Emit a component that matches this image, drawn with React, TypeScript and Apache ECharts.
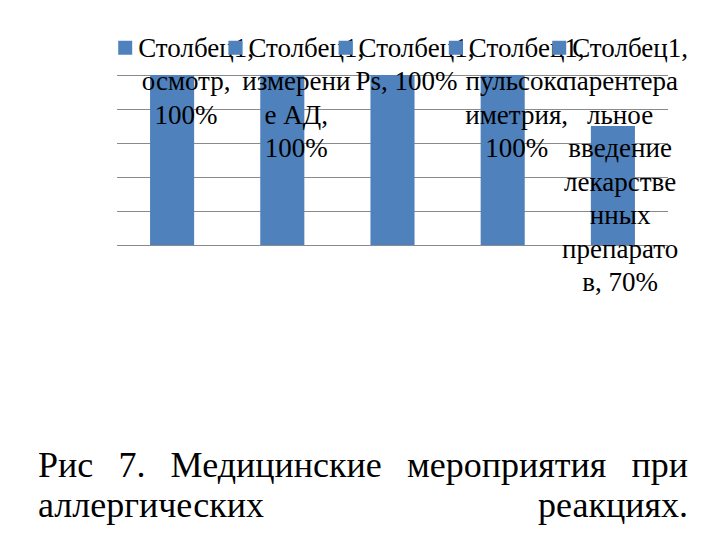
import React, { useEffect, useRef } from "react";
import * as echarts from "echarts";

const seriesName = "Столбец1";
const categories = [
  "осмотр",
  "измерение АД",
  "Ps",
  "пульсоксиметрия",
  "парентеральное введение лекарственных препаратов",
];
const values = [100, 100, 100, 100, 70];
// data-label text as wrapped in the reference (after the series name line)
const labelLines = [
  ["осмотр,", "100%"],
  ["измерени", "е АД,", "100%"],
  ["Ps, 100%"],
  ["пульсокс", "иметрия,", "100%"],
  ["парентера", "льное", "введение", "лекарстве", "нных", "препарато", "в, 70%"],
];
const yMin = 0;
const yMax = 100;
const yStep = 20;
const captionLine1 = ["Рис", "7.", "Медицинские", "мероприятия", "при"];
const captionLine2 = ["аллергических", "реакциях."];

const BAR = "#4F81BD";
const FONT = "serif";

function measure(text: string, size: number, family: string) {
  const ctx = document.createElement("canvas").getContext("2d");
  if (!ctx) return text.length * size * 0.5;
  ctx.font = `${size}px ${family}`;
  return ctx.measureText(text).width;
}

export default function App() {
  const ref = useRef<HTMLDivElement>(null);
  useEffect(() => {
    document.body.style.margin = "0";
    if (!ref.current) return;
    const chart = echarts.init(ref.current, null, { renderer: "svg" });
    const capSize = 36;
    const left = 38;
    const right = 688;
    const mkStyle = (text: string, align: string, size: number) => ({
      text,
      fontFamily: FONT,
      fontSize: size,
      fill: "#000",
      align,
      verticalAlign: "middle",
      textAlign: align,
      textVerticalAlign: "middle",
    });
    const widths = captionLine1.map((w) => measure(w, capSize, FONT));
    const total = widths.reduce((a, b) => a + b, 0);
    const gap = (right - left - total) / (captionLine1.length - 1);
    const captionGraphics: any[] = [];
    let cx = left;
    captionLine1.forEach((w, i) => {
      captionGraphics.push({ type: "text", x: cx, y: 465, style: mkStyle(w, "left", capSize) });
      cx += widths[i] + gap;
    });
    captionGraphics.push({ type: "text", x: left, y: 505, style: mkStyle(captionLine2[0], "left", capSize) });
    captionGraphics.push({ type: "text", x: right, y: 505, style: mkStyle(captionLine2[1], "right", capSize) });

    chart.setOption({
      animation: false,
      backgroundColor: "#fff",
      grid: { left: 117, right: 52, top: 75, bottom: 295, containLabel: false },
      xAxis: {
        type: "category",
        data: categories,
        axisLine: { show: false },
        axisTick: { show: false },
        axisLabel: { show: false },
        splitLine: { show: false },
      },
      yAxis: {
        type: "value",
        min: yMin,
        max: yMax,
        interval: yStep,
        axisLine: { show: false },
        axisTick: { show: false },
        axisLabel: { show: false },
        splitLine: { show: true, lineStyle: { color: "#8a8a8a", width: 1 } },
      },
      series: [
        {
          type: "bar",
          name: seriesName,
          data: values,
          barWidth: "40%",
          itemStyle: { color: BAR },
          label: { show: false },
        },
      ],
      graphic: captionGraphics,
    });

    // data labels (legend key + series name + wrapped category/value), placed from the axes
    const LBL = 27;
    const LH = 33.5;
    const labelGraphics: any[] = [];
    values.forEach((v, i) => {
      const pt = chart.convertToPixel({ gridIndex: 0 }, [i, v]) as number[];
      const bx = pt[0];
      const first = `${seriesName},`;
      const w1 = 14 + 6 + measure(first, LBL, FONT);
      const lines = labelLines[i];
      const wMax = Math.max(w1, ...lines.map((l) => measure(l, LBL, FONT)));
      const cxL = Math.min(bx + 14, 688 - wMax / 2);
      const y0 = 31 + LH / 2;
      labelGraphics.push({
        type: "rect",
        z: 100,
        shape: { x: cxL - w1 / 2, y: y0 - 7, width: 14, height: 14 },
        style: { fill: BAR },
      });
      labelGraphics.push({
        type: "text",
        z: 100,
        x: cxL - w1 / 2 + 20,
        y: y0,
        style: mkStyle(first, "left", LBL),
      });
      lines.forEach((l, j) => {
        labelGraphics.push({
          type: "text",
          z: 100,
          x: cxL,
          y: y0 + LH * (j + 1),
          style: mkStyle(l, "center", LBL),
        });
      });
    });
    chart.setOption({ graphic: [...captionGraphics, ...labelGraphics] });
    return () => chart.dispose();
  }, []);
  return <div ref={ref} style={{ width: 720, height: 540 }} />;
}
